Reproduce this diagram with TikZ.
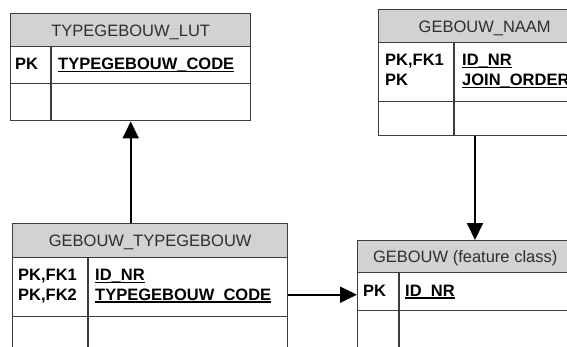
\documentclass[tikz,border=0pt]{standalone}
\usepackage{fontspec}
\setmainfont{Liberation Sans}
\usetikzlibrary{arrows.meta}
\definecolor{boxline}{HTML}{3C3C3C}
\definecolor{hdrgray}{HTML}{D2D2D2}
\definecolor{hdrtext}{HTML}{2E2E2E}
% underlined key field
\newcommand\fieldul[1]{\setbox0\hbox{#1}\rlap{\rule[-2.6pt]{\wd0}{1.4pt}}\box0}
\begin{document}
\begin{tikzpicture}[x=1pt,y=-1pt,
  box/.style={draw=boxline, line width=1.4pt, rectangle, inner sep=0pt, anchor=north west},
  hdr/.style={box, fill=hdrgray, text=hdrtext, font=\fontsize{16.5}{20}\selectfont,
    text height=12pt, text depth=0pt},
  cell/.style={anchor=base west, inner sep=0pt, text=black,
    font=\bfseries\fontsize{16.5}{20}\selectfont},
  divline/.style={draw=boxline, line width=1.4pt},
  conn/.style={line width=2pt, -{Triangle[length=17pt,width=16pt]}}]
\clip (0,0) rectangle (567,346);
\fill[white] (0,0) rectangle (567,346);

% TYPEGEBOUW_LUT
\node[hdr, minimum width=240pt, minimum height=33pt] (lut-head) at (10,13) {TYPEGEBOUW\_LUT};
\node[box, minimum width=240pt, minimum height=37pt] (lut-row) at (10,46) {};
\node[box, minimum width=240pt, minimum height=37pt] (lut-foot) at (10,83) {};
\draw[divline] (51,46) -- (51,120);
\node[cell] (lut-k1) at (15,69.5) {PK};
\node[cell] (lut-f1) at (58,69.5) {\fieldul{TYPEGEBOUW\_CODE}};

% GEBOUW_NAAM
\node[hdr, minimum width=212pt, minimum height=33pt] (naam-head) at (378,9) {GEBOUW\_NAAM};
\node[box, minimum width=212pt, minimum height=59pt] (naam-row) at (378,42) {};
\node[box, minimum width=212pt, minimum height=34pt] (naam-foot) at (378,101) {};
\draw[divline] (454,42) -- (454,135);
\node[cell] (naam-k1) at (385,65.5) {PK,FK1};
\node[cell] (naam-k2) at (385,85.5) {PK};
\node[cell] (naam-f1) at (462,65.5) {\fieldul{ID\_NR}};
\node[cell] (naam-f2) at (462,85.5) {\fieldul{JOIN\_ORDER}};

% GEBOUW_TYPEGEBOUW
\node[hdr, minimum width=275pt, minimum height=34pt] (gt-head) at (12,223) {GEBOUW\_TYPEGEBOUW};
\node[box, minimum width=275pt, minimum height=59pt] (gt-row) at (12,257) {};
\node[box, minimum width=275pt, minimum height=44pt] (gt-foot) at (12,316) {};
\draw[divline] (88,257) -- (88,360);
\node[cell] (gt-k1) at (18,280.5) {PK,FK1};
\node[cell] (gt-k2) at (18,300) {PK,FK2};
\node[cell] (gt-f1) at (95,280.5) {\fieldul{ID\_NR}};
\node[cell] (gt-f2) at (95,300) {\fieldul{TYPEGEBOUW\_CODE}};

% GEBOUW (feature class)
\node[hdr, minimum width=215pt, minimum height=32pt] (geb-head) at (357,240) {GEBOUW (feature class)};
\node[box, minimum width=215pt, minimum height=38pt] (geb-row) at (357,272) {};
\node[box, minimum width=215pt, minimum height=50pt] (geb-foot) at (357,310) {};
\draw[divline] (399,272) -- (399,360);
\node[cell] (geb-k1) at (363,296) {PK};
\node[cell] (geb-f1) at (405,296) {\fieldul{ID\_NR}};

% relations
\draw[conn] (lut-foot.south |- gt-head.north) -- (lut-foot.south);
\coordinate (naam-out) at ([xshift=97pt]naam-foot.south west);
\draw[conn] (naam-out) -- (naam-out |- geb-head.north);
\coordinate (gt-out) at ([yshift=-7.5pt]gt-row.east);
\draw[conn] (gt-out) -- (gt-out -| geb-row.west);
\end{tikzpicture}
\end{document}
